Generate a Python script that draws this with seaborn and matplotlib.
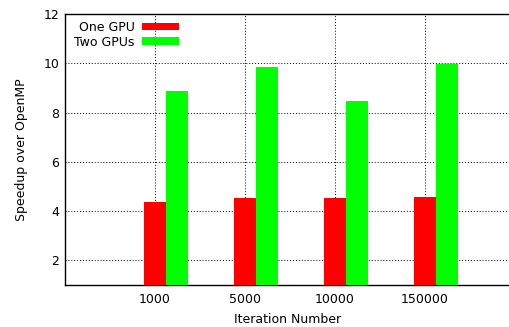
import matplotlib
matplotlib.use("Agg")
import matplotlib.pyplot as plt
import seaborn as sns
import pandas as pd
from matplotlib.patches import Patch

iterations = ["1000", "5000", "10000", "150000"]
one_gpu = [4.38, 4.53, 4.54, 4.57]
two_gpus = [8.88, 9.84, 8.45, 9.98]
series = ["One GPU", "Two GPUs"]
colors = ["#ff0000", "#00ff00"]

df = pd.DataFrame({
    "Iteration": iterations * 2,
    "Speedup": one_gpu + two_gpus,
    "Series": [series[0]] * 4 + [series[1]] * 4,
})

sns.set_theme(style="white")
plt.rcParams["font.family"] = ["DejaVu Sans"]
plt.rcParams["text.color"] = "black"
plt.rcParams["axes.labelcolor"] = "black"
plt.rcParams["xtick.color"] = "black"
plt.rcParams["ytick.color"] = "black"

fig = plt.figure(figsize=(5.1, 3.27), dpi=100)
ax = fig.add_axes([65/510, 42/327, 445/510, 271/327])

sns.barplot(data=df, x="Iteration", y="Speedup", hue="Series", order=iterations,
            hue_order=series, palette=colors, width=0.49, saturation=1,
            linewidth=0, ax=ax, legend=False, zorder=3)

off = -0.1225
ax.set_xticks([i + off for i in range(len(iterations))])
ax.set_xticklabels(iterations, fontsize=9)
ax.set_xlim(-1 + off, 3.944 + off)
ax.set_ylim(1, 12)
ax.set_yticks([2, 4, 6, 8, 10, 12])
ax.tick_params(axis="y", direction="in", length=4, width=1, labelsize=9, pad=4,
               color="black", labelcolor="black")
ax.tick_params(axis="x", direction="in", length=0, labelsize=9, pad=6, labelcolor="black")
ax.grid(True, linestyle=(0, (1, 2)), color="black", linewidth=0.7, zorder=0)
ax.set_axisbelow(True)

for s in ["left", "bottom", "top"]:
    ax.spines[s].set_visible(True)
    ax.spines[s].set_color("black")
    ax.spines[s].set_linewidth(1)
ax.spines["right"].set_visible(False)

ax.set_xlabel("Iteration Number", fontsize=9, labelpad=5, color="black")
ax.set_ylabel("Speedup over OpenMP", fontsize=9, labelpad=11, color="black")

handles = [Patch(facecolor=c, edgecolor="none", label=s) for s, c in zip(series, colors)]
leg = ax.legend(handles=handles, loc="upper left", bbox_to_anchor=(0.005, 1.0),
                frameon=False, markerfirst=False, fontsize=9, handlelength=3.0,
                handleheight=0.6, handletextpad=0.6, labelspacing=0.15,
                borderaxespad=0.15)
for t in leg.get_texts():
    t.set_ha("right")
    t.set_color("black")

fig.savefig("out.png", dpi=100)
